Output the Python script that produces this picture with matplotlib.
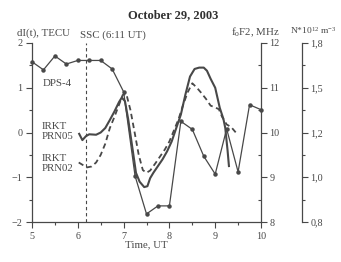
import matplotlib
matplotlib.use("Agg")
import matplotlib.pyplot as plt
from matplotlib.ticker import MultipleLocator, FixedLocator

plt.rcParams['font.family'] = ['Liberation Serif', 'DejaVu Serif']
plt.rcParams['mathtext.fontset'] = 'custom'
plt.rcParams['mathtext.rm'] = 'Liberation Serif'
plt.rcParams['mathtext.it'] = 'Liberation Serif:italic'

# DPS-4 foF2 (MHz)
dps_t = [5.0, 5.25, 5.5, 5.75, 6.0, 6.25, 6.5, 6.75, 7.0, 7.25, 7.5, 7.75, 8.0,
         8.25, 8.5, 8.75, 9.0, 9.25, 9.5, 9.75, 10.0]
dps_f = [11.58, 11.40, 11.71, 11.53, 11.61, 11.61, 11.61, 11.42, 10.91, 9.03,
         8.18, 8.36, 8.36, 10.25, 10.07, 9.47, 9.07, 10.08, 9.12, 10.62, 10.51]

# IRKT PRN05 dI(t), TECU
p05_t = [6.03, 6.1, 6.18, 6.25, 6.4, 6.5, 6.6, 6.7, 6.8, 6.9, 6.96, 7.03, 7.1,
         7.2, 7.27, 7.35, 7.45, 7.52, 7.58, 7.65, 7.75, 7.85, 7.95, 8.05, 8.15,
         8.25, 8.35, 8.45, 8.55, 8.65, 8.75, 8.82, 8.9, 9.0, 9.1, 9.18, 9.22,
         9.27, 9.3]
p05_v = [-0.03, -0.17, -0.08, -0.04, -0.05, 0.0, 0.1, 0.28, 0.47, 0.68, 0.78,
         0.7, 0.3, -0.4, -0.9, -1.1, -1.22, -1.2, -1.02, -0.9, -0.75, -0.6,
         -0.42, -0.2, 0.1, 0.4, 0.85, 1.25, 1.42, 1.45, 1.45, 1.38, 1.2, 1.0,
         0.55, 0.3, 0.1, -0.4, -0.75]

# IRKT PRN02 dI(t), TECU
p02_t = [6.02, 6.1, 6.2, 6.3, 6.4, 6.5, 6.6, 6.7, 6.8, 6.9, 6.98, 7.06, 7.15,
         7.25, 7.33, 7.42, 7.5, 7.58, 7.7, 7.8, 7.9, 8.0, 8.1, 8.2, 8.3, 8.4,
         8.5, 8.6, 8.7, 8.8, 8.9, 9.0, 9.08, 9.15, 9.25, 9.35, 9.45]
p02_v = [-0.67, -0.72, -0.78, -0.76, -0.67, -0.5, -0.25, 0.1, 0.35, 0.62, 0.84,
         0.86, 0.5, -0.05, -0.5, -0.84, -0.9, -0.85, -0.68, -0.53, -0.38, -0.2,
         0.05, 0.3, 0.62, 0.9, 1.1, 1.0, 0.88, 0.75, 0.6, 0.56, 0.52, 0.35,
         0.18, 0.12, 0.0]

ssc_time = 6 + 11 / 60
x_ticks = [5, 6, 7, 8, 9, 10]
left_ticks = [-2, -1, 0, 1, 2]
f_ticks = [8, 9, 10, 11, 12]
n_labels = ['0,8', '1,0', '1,2', '1,5', '1,8']

C = '#484848'
fs = 7.8
tfs = 7.3

fig = plt.figure(figsize=(3.41, 2.62), dpi=100)
ax = fig.add_axes([32/341, 1-222/262, 229/341, 179/262])
ax.set_xlim(5, 10)
ax.set_ylim(-2, 2)
for s in ['top', 'right']:
    ax.spines[s].set_visible(False)
for s in ['left', 'bottom']:
    ax.spines[s].set_color(C)
    ax.spines[s].set_linewidth(0.9)
ax.xaxis.set_major_locator(FixedLocator(x_ticks))
ax.xaxis.set_minor_locator(MultipleLocator(0.5))
ax.yaxis.set_major_locator(FixedLocator(left_ticks))
ax.yaxis.set_minor_locator(MultipleLocator(0.5))
ax.tick_params(which='both', direction='out', colors=C, labelsize=tfs, width=0.8)
ax.tick_params(which='major', length=4, pad=3)
ax.tick_params(which='minor', length=2.5)
ax.set_xlabel('Time, UT', fontsize=fs, color=C, labelpad=0)

ax.plot(p05_t, p05_v, color=C, lw=1.5, solid_joinstyle='round')
ax.plot(p02_t, p02_v, color=C, lw=1.3, ls=(0, (3, 2)))
ax.axvline(ssc_time, color=C, lw=0.8, ls=(0, (3, 2.5)))

ax2 = ax.twinx()
ax2.set_ylim(8, 12)
ax2.spines['top'].set_visible(False)
ax2.spines['left'].set_visible(False)
ax2.spines['bottom'].set_visible(False)
ax2.spines['right'].set_color(C)
ax2.spines['right'].set_linewidth(0.9)
ax2.yaxis.set_major_locator(FixedLocator(f_ticks))
ax2.yaxis.set_minor_locator(MultipleLocator(0.5))
ax2.tick_params(which='both', direction='out', colors=C, labelsize=tfs, width=0.8)
ax2.tick_params(which='major', length=4, pad=2)
ax2.tick_params(which='minor', length=2.5, direction='in')
ax2.plot(dps_t, dps_f, color=C, lw=0.9, marker='o', ms=2.2, clip_on=False)

ax3 = ax.twinx()
ax3.set_ylim(8, 12)
for s in ['top', 'left', 'bottom']:
    ax3.spines[s].set_visible(False)
ax3.spines['right'].set_position(('axes', 1 + 41/229))
ax3.spines['right'].set_color(C)
ax3.spines['right'].set_linewidth(0.9)
ax3.yaxis.set_major_locator(FixedLocator(f_ticks))
ax3.set_yticklabels(n_labels)
ax3.yaxis.set_minor_locator(MultipleLocator(0.5))
ax3.tick_params(which='both', direction='out', colors=C, labelsize=tfs, width=0.8)
ax3.tick_params(which='major', length=4, pad=2)
ax3.tick_params(which='minor', length=2.5)

fig.text(173/341, 1-15/262, 'October 29, 2003', ha='center', va='center',
         fontsize=9, fontweight='bold', color='#303030')
fig.text(17/341, 1-33/262, 'dI(t), TECU', ha='left', va='center', fontsize=fs, color=C)
fig.text(80/341, 1-35/262, 'SSC (6:11 UT)', ha='left', va='center', fontsize=fs, color=C)
fig.text(231/341, 1-32/262, r'f$_{\rm o}$F2, MHz', ha='left', va='center', fontsize=fs, color=C)
fig.text(290/341, 1-31/262, r'N*10$^{12}$ m$^{-3}$', ha='left', va='center', fontsize=6.8, color=C)

ax.text(5.24, 1.1, 'DPS-4', fontsize=fs, color=C, ha='left', va='center')
ax.text(5.2, 0.02, 'IRKT\nPRN05', fontsize=fs, color=C, ha='left', va='center', linespacing=1.1)
ax.text(5.2, -0.7, 'IRKT\nPRN02', fontsize=fs, color=C, ha='left', va='center', linespacing=1.1)

fig.savefig('out.png', dpi=100)
